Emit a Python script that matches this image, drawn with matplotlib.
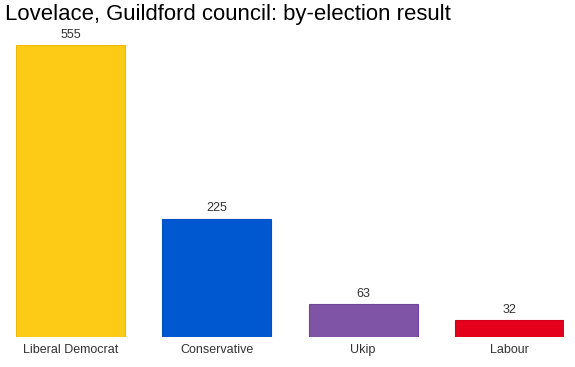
import matplotlib
matplotlib.use('Agg')
import matplotlib.pyplot as plt

plt.rcParams['font.family'] = ['Liberation Sans', 'DejaVu Sans']

parties = ['Liberal Democrat', 'Conservative', 'Ukip', 'Labour']
votes = [555, 225, 63, 32]
colors = ['#FDCA16', '#0058D0', '#7F53A6', '#E4001B']
edges = ['#F2B800', '#0050C0', '#6E4896', '#D00018']

W, H = 575, 367
fig = plt.figure(figsize=(W / 100, H / 100), dpi=100)
# axes placed in pixel terms: left 16, right 564, bottom at y=337, top (555) at y=45
ax = fig.add_axes([16 / W, 30 / H, 548 / W, 292 / H])

x = range(len(parties))
ax.bar(x, votes, width=0.745, color=colors, edgecolor=edges, linewidth=0.8)
for i, v in enumerate(votes):
    ax.annotate(str(v), (i, v), xytext=(0, 3), textcoords='offset points',
                ha='center', va='bottom', fontsize=9, color='#333333',
                annotation_clip=False)

ax.set_xlim(-0.3725, 3.3725)
ax.set_ylim(0, 555)
ax.set_xticks(list(x))
ax.set_xticklabels(parties, fontsize=9, color='#333333')
ax.tick_params(axis='x', length=0, pad=5)
ax.set_yticks([])
for s in ax.spines.values():
    s.set_visible(False)

fig.text(5 / W, 1 - 4 / H, 'Lovelace, Guildford council: by-election result',
         fontsize=15.9, ha='left', va='top', color='black')

fig.savefig('out.png', dpi=100)
